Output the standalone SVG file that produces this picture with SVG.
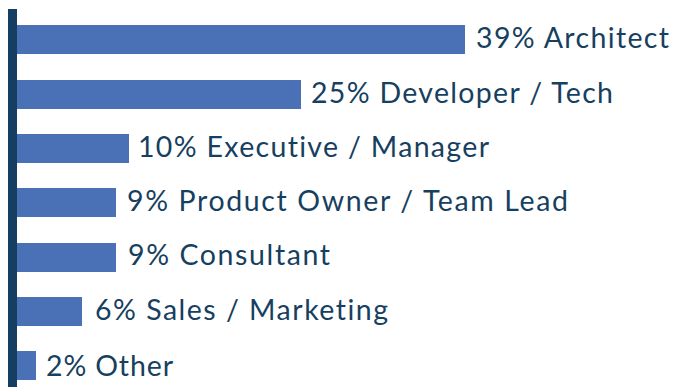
<svg xmlns="http://www.w3.org/2000/svg" width="675" height="387" viewBox="0 0 675 387">
<style>
.bar{fill:#4a71b5}
.lbl{font-family:Lato,"Open Sans",sans-serif;font-size:28.5px;fill:#173f5f;font-variant-ligatures:none}
</style>
<rect width="675" height="387" fill="#ffffff"/>
<g id="bars">
<g id="architect"><rect class="bar" x="17" y="25" width="448" height="29"/><text class="lbl" x="476" y="47.5" textLength="193" lengthAdjust="spacing">39% Architect</text></g>
<g id="developer"><rect class="bar" x="17" y="80" width="284" height="29"/><text class="lbl" x="311" y="103" textLength="302" lengthAdjust="spacing">25% Developer / Tech</text></g>
<g id="executive"><rect class="bar" x="17" y="134" width="112" height="29"/><text class="lbl" x="138" y="157" textLength="351" lengthAdjust="spacing">10% Executive / Manager</text></g>
<g id="product"><rect class="bar" x="17" y="188" width="99" height="29"/><text class="lbl" x="127" y="211" textLength="441" lengthAdjust="spacing">9% Product Owner / Team Lead</text></g>
<g id="consultant"><rect class="bar" x="17" y="243" width="99" height="29"/><text class="lbl" x="128" y="265" textLength="202" lengthAdjust="spacing">9% Consultant</text></g>
<g id="sales"><rect class="bar" x="17" y="297" width="65" height="29"/><text class="lbl" x="95" y="320" textLength="293" lengthAdjust="spacing">6% Sales / Marketing</text></g>
<g id="other"><rect class="bar" x="17" y="351" width="19" height="29"/><text class="lbl" x="46" y="375.5" textLength="127" lengthAdjust="spacing">2% Other</text></g>
</g>
<g id="axis"><rect x="8" y="9" width="9" height="378" fill="#143f62"/></g>
</svg>
